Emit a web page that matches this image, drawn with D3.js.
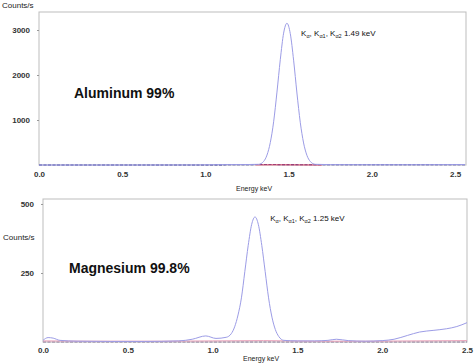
<!DOCTYPE html>
<html>
<head>
<meta charset="utf-8">
<script src="https://cdn.jsdelivr.net/npm/d3@7"></script>
<style>
body { margin: 0; background: #fff; }
svg { display: block; font-family: "Liberation Sans", Arial, sans-serif; }
.tick text { fill: #333; font-size: 8px; }
</style>
</head>
<body>
<script>
// tick labels
var xTicks = [0, 0.5, 1.0, 1.5, 2.0, 2.5];
var alYTicks = [1000, 2000, 3000];
var mgYTicks = [250, 500];

// aluminum spectrum (energy keV, counts/s)
var alEnergy = [0, 0.5, 0.95, 1.1, 1.25, 1.32, 1.35, 1.37, 1.39, 1.41, 1.43, 1.45, 1.47, 1.49, 1.51, 1.53, 1.55, 1.57, 1.59, 1.61, 1.63, 1.66, 1.75, 2.0, 2.3, 2.56];
var alCounts = [0, 0, 2, 8, 10, 15, 80, 220, 500, 960, 1620, 2340, 2930, 3150, 2920, 2330, 1600, 950, 490, 215, 80, 15, 8, 6, 6, 10];
// aluminum baseline traces
var alBaseEnergy = [0, 0.95, 1.35, 1.65, 2.3, 2.56];
var alBaseCounts = [0, 0, 10, 6, 4, 4];
var alRedEnergy = [1.3, 1.45, 1.55, 1.7];
var alRedCounts = [2, 4, 2, 0];

// magnesium spectrum
var mgEnergy = [0, 0.03, 0.06, 0.1, 0.2, 0.4, 0.6, 0.8, 0.88, 0.96, 1.02, 1.08, 1.11, 1.13, 1.15, 1.17, 1.19, 1.21, 1.23, 1.25, 1.27, 1.29, 1.31, 1.33, 1.35, 1.37, 1.39, 1.42, 1.5, 1.6, 1.68, 1.73, 1.8, 1.9, 2.0, 2.07, 2.15, 2.22, 2.3, 2.38, 2.44, 2.5];
var mgCounts = [6, 16, 14, 6, 3, 2, 2, 4, 10, 22, 13, 17, 30, 55, 98, 160, 255, 350, 425, 453, 425, 350, 255, 160, 90, 45, 20, 6, 4, 4, 6, 10, 5, 3, 5, 10, 24, 36, 42, 48, 56, 70];
var mgRedEnergy = [0, 0.3, 0.7, 1.0, 1.3, 1.6, 1.9, 2.2, 2.5];
var mgRedCounts = [4, 3, 3, 4, 5, 3, 3, 4, 5];

var W = 474, H = 363;
var svg = d3.select("body").append("svg").attr("width", W).attr("height", H);

var lavender = "#9c9ce6";

function drawPanel(p) {
    var x = d3.scaleLinear().domain(p.xDomain).range([p.left, p.right]);
    var y = d3.scaleLinear().domain(p.yDomain).range([p.bottom, p.top]);

    svg.append("rect")
        .attr("x", p.left).attr("y", p.top)
        .attr("width", p.right - p.left).attr("height", p.bottom - p.top)
        .attr("fill", "none").attr("stroke", "#bdbdbd").attr("stroke-width", 1);

    var line = d3.line()
        .x(function (d) { return x(d[0]); })
        .y(function (d) { return y(d[1]); })
        .curve(d3.curveMonotoneX);

    // dashed baseline
    svg.append("path")
        .datum(d3.zip(p.baseE, p.baseC))
        .attr("d", line)
        .attr("fill", "none").attr("stroke", p.baseColor).attr("stroke-width", 1.1)
        .attr("stroke-dasharray", "3,1.5");

    svg.append("path")
        .datum(d3.zip(p.redE, p.redC))
        .attr("d", line)
        .attr("fill", "none").attr("stroke", p.redColor).attr("stroke-width", 1);

    svg.append("path")
        .datum(d3.zip(p.energy, p.counts))
        .attr("d", line)
        .attr("fill", "none").attr("stroke", lavender).attr("stroke-width", 1);

    var gx = svg.append("g")
        .attr("transform", "translate(0," + p.bottom + ")")
        .call(d3.axisBottom(x).tickValues(xTicks).tickSize(0).tickPadding(p.xPad).tickFormat(d3.format(".1f")));
    gx.select(".domain").remove();
    gx.selectAll("text").attr("font-weight", "bold");

    var gy = svg.append("g")
        .attr("transform", "translate(" + p.left + ",0)")
        .call(d3.axisLeft(y).tickValues(p.yTicks).tickSize(2).tickPadding(p.yPad).tickFormat(d3.format("d")));
    gy.select(".domain").remove();
    gy.selectAll("line").attr("stroke", "#999");
    gy.selectAll("text").attr("font-weight", "bold");

    svg.append("text")
        .attr("x", p.titleX).attr("y", p.titleY)
        .attr("font-size", 14).attr("font-weight", "bold").attr("fill", "#111")
        .text(p.title);

    var t = svg.append("text")
        .attr("x", x(p.annE)).attr("y", p.annY)
        .attr("font-size", 8).attr("fill", "#111");
    t.append("tspan").text("K");
    t.append("tspan").attr("font-size", 5.5).attr("dy", 2).text("α");
    t.append("tspan").attr("dy", -2).text(", K");
    t.append("tspan").attr("font-size", 5.5).attr("dy", 2).text("α1");
    t.append("tspan").attr("dy", -2).text(", K");
    t.append("tspan").attr("font-size", 5.5).attr("dy", 2).text("α2");
    t.append("tspan").attr("dy", -2).text("  " + p.annText);

    return {x: x, y: y};
}

drawPanel({
    left: 39, right: 466, top: 12, bottom: 165,
    xDomain: [0, 2.566], yDomain: [0, 3400],
    energy: alEnergy, counts: alCounts,
    baseE: alBaseEnergy, baseC: alBaseCounts, baseColor: "#2a2a8a",
    redE: alRedEnergy, redC: alRedCounts, redColor: "#e04a6a",
    yTicks: alYTicks, xPad: 6, yPad: 7,
    title: "Aluminum 99%", titleX: 74, titleY: 98,
    annE: 1.575, annY: 36, annText: "1.49 keV"
});

drawPanel({
    left: 43, right: 467, top: 199, bottom: 342,
    xDomain: [0, 2.5], yDomain: [0, 518],
    energy: mgEnergy, counts: mgCounts,
    baseE: [0, 2.5], baseC: [0, 0], baseColor: "#8a7a9a",
    redE: mgRedEnergy, redC: mgRedCounts, redColor: "#eaa0b8",
    yTicks: mgYTicks, xPad: 5, yPad: 7,
    title: "Magnesium 99.8%", titleX: 69, titleY: 273,
    annE: 1.34, annY: 221, annText: "1.25 keV"
});

svg.append("text").attr("x", 236).attr("y", 191).attr("font-size", 7).attr("fill", "#222").text("Energy keV");
svg.append("text").attr("x", 243).attr("y", 361).attr("font-size", 7).attr("fill", "#222").text("Energy keV");
svg.append("text").attr("x", 2).attr("y", 8).attr("font-size", 8).attr("fill", "#222").text("Counts/s");
svg.append("text").attr("x", 3).attr("y", 240).attr("font-size", 8).attr("fill", "#222").text("Counts/s");
</script>
</body>
</html>
